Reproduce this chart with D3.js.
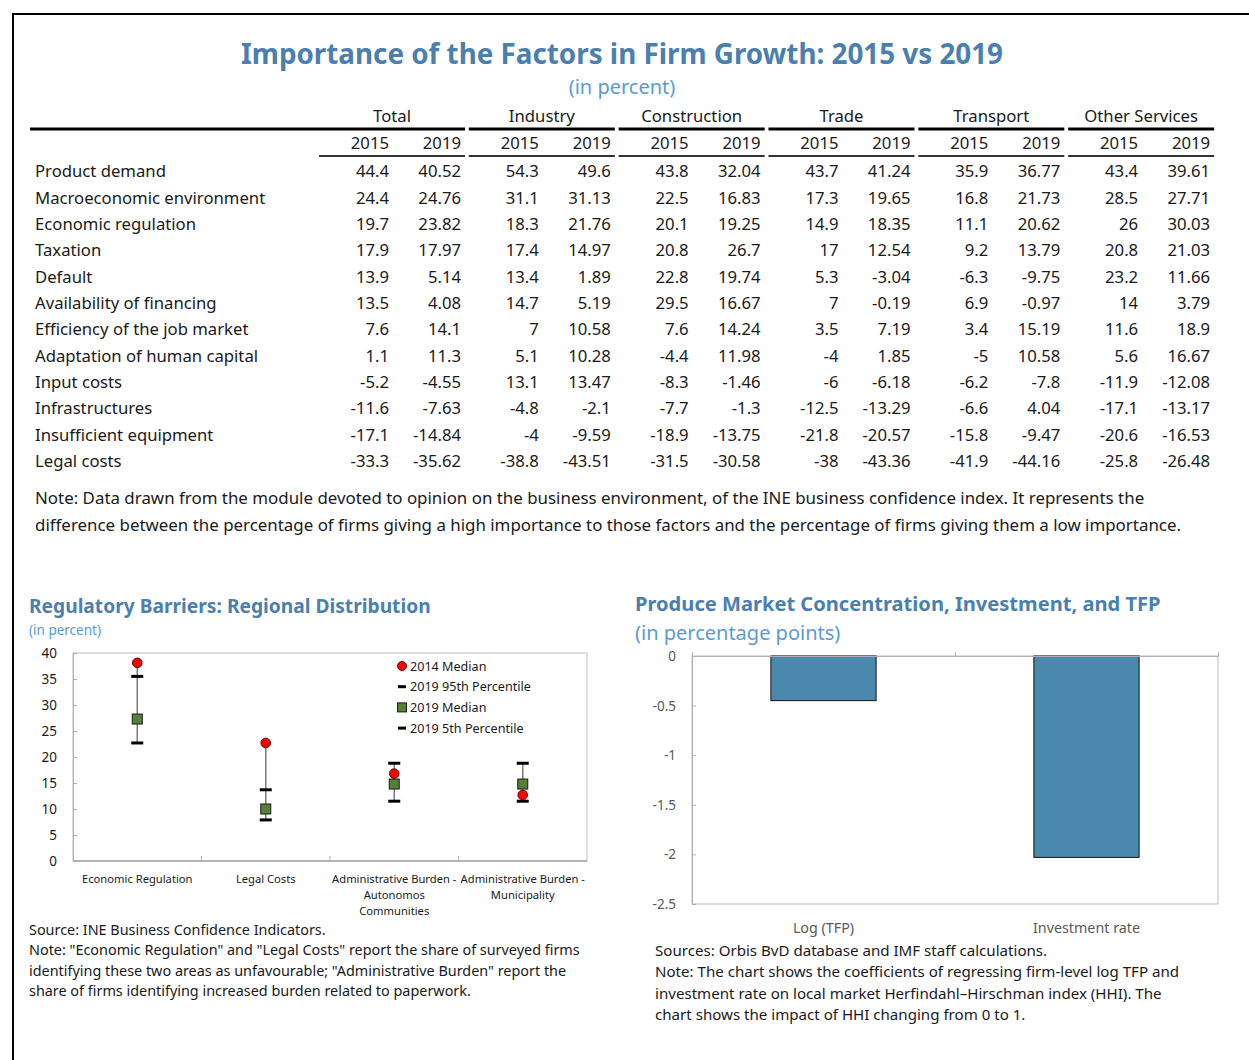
<!DOCTYPE html>
<html>
<head>
<meta charset="utf-8">
<script src="https://d3js.org/d3.v7.min.js"></script>
<style>
  body { margin: 0; background: #fff; }
  svg text { font-family: "Noto Sans", sans-serif; }
</style>
</head>
<body>
<div id="chart"></div>
<script>
// ---- table data ----
var groups = ["Total", "Industry", "Construction", "Trade", "Transport", "Other Services"];
var years = ["2015", "2019"];
var factors = ["Product demand", "Macroeconomic environment", "Economic regulation", "Taxation",
  "Default", "Availability of financing", "Efficiency of the job market", "Adaptation of human capital",
  "Input costs", "Infrastructures", "Insufficient equipment", "Legal costs"];

var total2015 = [44.4, 24.4, 19.7, 17.9, 13.9, 13.5, 7.6, 1.1, -5.2, -11.6, -17.1, -33.3];
var total2019 = [40.52, 24.76, 23.82, 17.97, 5.14, 4.08, 14.1, 11.3, -4.55, -7.63, -14.84, -35.62];
var industry2015 = [54.3, 31.1, 18.3, 17.4, 13.4, 14.7, 7, 5.1, 13.1, -4.8, -4, -38.8];
var industry2019 = [49.6, 31.13, 21.76, 14.97, 1.89, 5.19, 10.58, 10.28, 13.47, -2.1, -9.59, -43.51];
var construction2015 = [43.8, 22.5, 20.1, 20.8, 22.8, 29.5, 7.6, -4.4, -8.3, -7.7, -18.9, -31.5];
var construction2019 = [32.04, 16.83, 19.25, 26.7, 19.74, 16.67, 14.24, 11.98, -1.46, -1.3, -13.75, -30.58];
var trade2015 = [43.7, 17.3, 14.9, 17, 5.3, 7, 3.5, -4, -6, -12.5, -21.8, -38];
var trade2019 = [41.24, 19.65, 18.35, 12.54, -3.04, -0.19, 7.19, 1.85, -6.18, -13.29, -20.57, -43.36];
var transport2015 = [35.9, 16.8, 11.1, 9.2, -6.3, 6.9, 3.4, -5, -6.2, -6.6, -15.8, -41.9];
var transport2019 = [36.77, 21.73, 20.62, 13.79, -9.75, -0.97, 15.19, 10.58, -7.8, 4.04, -9.47, -44.16];
var other2015 = [43.4, 28.5, 26, 20.8, 23.2, 14, 11.6, 5.6, -11.9, -17.1, -20.6, -25.8];
var other2019 = [39.61, 27.71, 30.03, 21.03, 11.66, 3.79, 18.9, 16.67, -12.08, -13.17, -16.53, -26.48];

// ---- regulatory barriers data ----
var barrierLabels = [["Economic Regulation"], ["Legal Costs"],
  ["Administrative Burden -", "Autonomos", "Communities"], ["Administrative Burden -", "Municipality"]];
var median2014 = [38.1, 22.7, 16.8, 12.7];
var pct95_2019 = [35.5, 13.7, 18.8, 18.8];
var median2019 = [27.3, 10, 14.8, 14.8];
var pct5_2019 = [22.7, 7.9, 11.5, 11.5];
var barrierTicks = [0, 5, 10, 15, 20, 25, 30, 35, 40];

// ---- concentration data ----
var hhiCats = ["Log (TFP)", "Investment rate"];
var hhiCoef = [-0.45, -2.03];
var hhiTicks = [0, -0.5, -1, -1.5, -2, -2.5];

var blue = "#4a7fb0", lightBlue = "#5b9bd5", ink = "#1a1a1a";

var svg = d3.select("#chart").append("svg")
  .attr("width", 1249)
  .attr("height", 1060);

// frame
svg.append("path").attr("d", "M13 1060 L13 14 L1249 14")
  .attr("fill", "none").attr("stroke", "#000").attr("stroke-width", 2);

// titles
svg.append("text").attr("x", 622).attr("y", 64).attr("text-anchor", "middle")
  .attr("font-size", 27.8).attr("font-weight", "bold").attr("fill", blue)
  .text("Importance of the Factors in Firm Growth: 2015 vs 2019");
svg.append("text").attr("x", 622).attr("y", 94).attr("text-anchor", "middle")
  .attr("font-size", 20).attr("fill", lightBlue).text("(in percent)");

// ---- table ----
var groupData = [[total2015, total2019], [industry2015, industry2019], [construction2015, construction2019],
  [trade2015, trade2019], [transport2015, transport2019], [other2015, other2019]];

var gx = d3.scaleBand().domain(groups).range([319, 1218]);
var rowY = d3.scaleBand().domain(factors).range([158, 474]);
var tableFont = 16.7;

var tbl = svg.append("g");
tbl.selectAll(".grp").data(groups).enter().append("text")
  .attr("x", function(d) { return gx(d) + 73; })
  .attr("y", 122).attr("text-anchor", "middle").attr("font-size", tableFont).attr("fill", ink)
  .text(function(d) { return d; });

groups.forEach(function(gname, i) {
  var x0 = i === 0 ? 30 : gx(gname);
  // thick rule under group names, thinner one under years
  tbl.append("line").attr("x1", x0).attr("x2", gx(gname) + 146)
    .attr("y1", 129).attr("y2", 129).attr("stroke", "#000").attr("stroke-width", 3);
  tbl.append("line").attr("x1", gx(gname)).attr("x2", gx(gname) + 146)
    .attr("y1", 156).attr("y2", 156).attr("stroke", "#333").attr("stroke-width", 2);
  years.forEach(function(yr, j) {
    var xr = gx(gname) + 70 + j * 72;
    tbl.append("text").attr("x", xr).attr("y", 149).attr("text-anchor", "end")
      .attr("font-size", tableFont).attr("fill", ink).text(yr);
    tbl.selectAll(null).data(groupData[i][j]).enter().append("text")
      .attr("x", xr)
      .attr("y", function(d, k) { return rowY(factors[k]) + rowY.bandwidth() / 2 + 6; })
      .attr("text-anchor", "end").attr("font-size", tableFont).attr("fill", ink)
      .text(function(d) { return String(d); });
  });
});

tbl.selectAll(".fac").data(factors).enter().append("text")
  .attr("x", 35).attr("y", function(d) { return rowY(d) + rowY.bandwidth() / 2 + 6; })
  .attr("font-size", tableFont).attr("fill", ink).text(function(d) { return d; });

var note1 = ["Note: Data drawn from the module devoted to opinion on the business environment, of the INE business confidence index. It represents the",
  "difference between the percentage of firms giving a high importance to those factors and the percentage of firms giving them a low importance."];
svg.selectAll(".note1").data(note1).enter().append("text")
  .attr("x", 35).attr("y", function(d, i) { return 504 + i * 27; })
  .attr("font-size", 16.9).attr("fill", ink).text(function(d) { return d; });

// ---- left chart: regulatory barriers ----
svg.append("text").attr("x", 29).attr("y", 613).attr("font-size", 19.2).attr("font-weight", "bold")
  .attr("fill", blue).text("Regulatory Barriers: Regional Distribution");
svg.append("text").attr("x", 29).attr("y", 635).attr("font-size", 13.5)
  .attr("fill", lightBlue).text("(in percent)");

var lx = d3.scaleBand().domain(d3.range(barrierLabels.length)).range([73, 587]);
var ly = d3.scaleLinear().domain([0, 40]).range([861, 653]);
var lg = svg.append("g");

lg.append("rect").attr("x", 73).attr("y", 653).attr("width", 514).attr("height", 208)
  .attr("fill", "none").attr("stroke", "#c8c8c8").attr("stroke-width", 1.2);

var lyAxis = lg.append("g").attr("transform", "translate(73,0)")
  .call(d3.axisRight(ly).tickValues(barrierTicks).tickSize(4).tickFormat(""));
lyAxis.select(".domain").attr("stroke", "#b0b0b0");
lyAxis.selectAll(".tick line").attr("stroke", "#b0b0b0");
lg.selectAll(".ylab").data(barrierTicks).enter().append("text")
  .attr("x", 57).attr("y", function(d) { return ly(d) + 5; })
  .attr("text-anchor", "end").attr("font-size", 13.5).attr("fill", ink)
  .text(function(d) { return d; });

// category boundary ticks
lg.selectAll(".ctick").data(d3.range(1, barrierLabels.length)).enter().append("line")
  .attr("x1", function(d) { return lx(d); }).attr("x2", function(d) { return lx(d); })
  .attr("y1", 861).attr("y2", 856).attr("stroke", "#b0b0b0");
lg.append("line").attr("x1", 73).attr("x2", 587).attr("y1", 861).attr("y2", 861)
  .attr("stroke", "#a6a6a6").attr("stroke-width", 1.5);

barrierLabels.forEach(function(lines, i) {
  var cx = lx(i) + lx.bandwidth() / 2;
  lines.forEach(function(t, k) {
    lg.append("text").attr("x", cx).attr("y", 883 + k * 16).attr("text-anchor", "middle")
      .attr("font-size", 11.2).attr("fill", ink).text(t);
  });
  var all = [median2014[i], pct95_2019[i], median2019[i], pct5_2019[i]];
  lg.append("line").attr("x1", cx).attr("x2", cx)
    .attr("y1", ly(d3.max(all))).attr("y2", ly(d3.min(all)))
    .attr("stroke", "#7a7a7a").attr("stroke-width", 1.5);
  [pct95_2019[i], pct5_2019[i]].forEach(function(v) {
    lg.append("line").attr("x1", cx - 6).attr("x2", cx + 6).attr("y1", ly(v)).attr("y2", ly(v))
      .attr("stroke", "#000").attr("stroke-width", 3);
  });
  lg.append("rect").attr("x", cx - 5).attr("y", ly(median2019[i]) - 5).attr("width", 10).attr("height", 10)
    .attr("fill", "#538135").attr("stroke", "#1a1a1a").attr("stroke-width", 1);
  lg.append("circle").attr("cx", cx).attr("cy", ly(median2014[i])).attr("r", 4.8)
    .attr("fill", "#ff0000").attr("stroke", "#600").attr("stroke-width", 1);
});

// legend
var legItems = ["2014 Median", "2019 95th Percentile", "2019 Median", "2019 5th Percentile"];
legItems.forEach(function(t, i) {
  var y = 666 + i * 20.7;
  if (i === 0) lg.append("circle").attr("cx", 402).attr("cy", y).attr("r", 4.5)
    .attr("fill", "#ff0000").attr("stroke", "#600");
  else if (i === 2) lg.append("rect").attr("x", 397.5).attr("y", y - 4.5).attr("width", 9).attr("height", 9)
    .attr("fill", "#538135").attr("stroke", "#1a1a1a");
  else lg.append("line").attr("x1", 398).attr("x2", 406).attr("y1", y).attr("y2", y)
    .attr("stroke", "#000").attr("stroke-width", 3);
  lg.append("text").attr("x", 410).attr("y", y + 4.5).attr("font-size", 12.6).attr("fill", ink).text(t);
});

var note2 = ["Source: INE Business Confidence Indicators.",
  "Note: \"Economic Regulation\" and \"Legal Costs\" report the share of surveyed firms",
  "identifying these two areas as unfavourable; \"Administrative Burden\" report the",
  "share of firms identifying increased burden related to paperwork."];
svg.selectAll(".note2").data(note2).enter().append("text")
  .attr("x", 29).attr("y", function(d, i) { return 935 + i * 20.3; })
  .attr("font-size", 14.4).attr("fill", ink).text(function(d) { return d; });

// ---- right chart: concentration ----
svg.append("text").attr("x", 635).attr("y", 611).attr("font-size", 20.1).attr("font-weight", "bold")
  .attr("fill", blue).text("Produce Market Concentration, Investment, and TFP");
svg.append("text").attr("x", 635).attr("y", 640).attr("font-size", 20)
  .attr("fill", lightBlue).text("(in percentage points)");

var defs = svg.append("defs");
var pat = defs.append("pattern").attr("id", "dots").attr("patternUnits", "userSpaceOnUse")
  .attr("width", 8).attr("height", 8);
pat.append("rect").attr("width", 8).attr("height", 8).attr("fill", "#4a89ad");
pat.append("circle").attr("cx", 4).attr("cy", 4).attr("r", 0.6).attr("fill", "#3f7a9c");

var rx = d3.scaleBand().domain(hhiCats).range([692, 1218]);
var ry = d3.scaleLinear().domain([-2.5, 0]).range([904, 656]);
var rg = svg.append("g");

rg.append("rect").attr("x", 692).attr("y", 656).attr("width", 526).attr("height", 248)
  .attr("fill", "none").attr("stroke", "#c8c8c8").attr("stroke-width", 1.2);

rg.selectAll(".bar").data(hhiCoef).enter().append("rect")
  .attr("x", function(d, i) { return rx(hhiCats[i]) + rx.bandwidth() * 0.3; })
  .attr("width", rx.bandwidth() * 0.4)
  .attr("y", ry(0))
  .attr("height", function(d) { return ry(d) - ry(0); })
  .attr("fill", "url(#dots)").attr("stroke", "#111").attr("stroke-width", 1);

var ryAxis = rg.append("g").attr("transform", "translate(692,0)")
  .call(d3.axisRight(ry).tickValues(hhiTicks).tickSize(4).tickFormat(""));
ryAxis.select(".domain").attr("stroke", "#b0b0b0");
ryAxis.selectAll(".tick line").attr("stroke", "#b0b0b0");
rg.selectAll(".rylab").data(hhiTicks).enter().append("text")
  .attr("x", 676).attr("y", function(d) { return ry(d) + 5; })
  .attr("text-anchor", "end").attr("font-size", 13.5).attr("fill", "#595959")
  .text(function(d) { return String(d); });

var rxAxis = rg.append("g").attr("transform", "translate(0," + ry(0) + ")")
  .call(d3.axisTop(d3.scaleLinear().domain([0, 2]).range([692, 1218])).tickValues([0, 1, 2])
    .tickSize(4).tickFormat(""));
rxAxis.select(".domain").attr("stroke", "#b0b0b0");
rxAxis.selectAll(".tick line").attr("stroke", "#b0b0b0");

rg.selectAll(".rxlab").data(hhiCats).enter().append("text")
  .attr("x", function(d) { return rx(d) + rx.bandwidth() / 2; })
  .attr("y", 933).attr("text-anchor", "middle").attr("font-size", 14.3).attr("fill", "#595959")
  .text(function(d) { return d; });

var note3 = ["Sources: Orbis BvD database and IMF staff calculations.",
  "Note: The chart shows the coefficients of regressing firm-level log TFP and",
  "investment rate on local market Herfindahl\u2013Hirschman index (HHI). The",
  "chart shows the impact of HHI changing from 0 to 1."];
svg.selectAll(".note3").data(note3).enter().append("text")
  .attr("x", 655).attr("y", function(d, i) { return 956 + i * 21.3; })
  .attr("font-size", 15.1).attr("fill", ink).text(function(d) { return d; });
</script>
</body>
</html>
